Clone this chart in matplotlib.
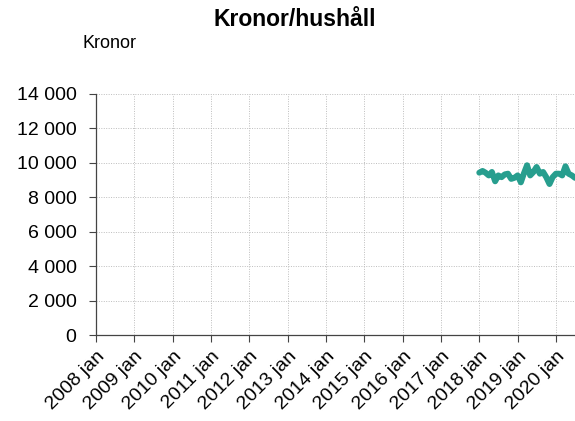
import matplotlib
matplotlib.use("Agg")
import matplotlib.pyplot as plt
import matplotlib.ticker as mticker
import pandas as pd

plt.rcParams['font.family'] = ['Liberation Sans', 'DejaVu Sans']

title = "Kronor/hushåll"
unit_label = "Kronor"
start_month = "2018-01-01"
values = [9430, 9530, 9430, 9270, 9470, 8930, 9270, 9170, 9330, 9370,
          9070, 9130, 9270, 8870, 9370, 9860, 9270, 9470, 9760, 9370,
          9470, 9170, 8770, 9170, 9370, 9370, 9270, 9800, 9370, 9270, 9130]
tick_years = list(range(2008, 2021))
tick_labels = [f"{y} jan" for y in tick_years]
y_ticks = [0, 2000, 4000, 6000, 8000, 10000, 12000, 14000]

dates = pd.date_range(start_month, periods=len(values), freq="MS")

fig = plt.figure(figsize=(5.75, 4.21), dpi=100)
ax = fig.add_axes([96/575, 86/421, 1 - 96/575, (335-94)/421])

ax.plot(dates, values, color="#279E8E", linewidth=4.3, solid_capstyle="round",
        solid_joinstyle="round", clip_on=False, zorder=3)

ax.set_xlim(pd.Timestamp("2008-01-01"), dates[-1])
ax.set_ylim(0, 14000)
ax.set_yticks(y_ticks)
ax.yaxis.set_major_formatter(mticker.FuncFormatter(lambda v, p: f"{int(v):,}".replace(",", " ")))
ax.set_xticks([pd.Timestamp(f"{y}-01-01") for y in tick_years])
ax.set_xticklabels(tick_labels, rotation=45, ha="right", rotation_mode="anchor")

ax.tick_params(axis="both", labelsize=14, length=5, width=0.8, direction="out",
               color="#444444", labelcolor="black")
ax.tick_params(axis="y", pad=9)
ax.tick_params(axis="x", pad=4)

ax.grid(True, which="major", linestyle=(0, (1, 1.5)), color="#bdbdbd", linewidth=0.7)
ax.set_axisbelow(True)
for s in ["top", "right"]:
    ax.spines[s].set_visible(False)
for s in ["left", "bottom"]:
    ax.spines[s].set_color("#444444")
    ax.spines[s].set_linewidth(0.9)

fig.text(295/575, 1 - 20/421, title, ha="center", va="center", fontsize=16.5, fontweight="bold")
fig.text(82/575, 1 - 44/421, unit_label, ha="left", va="center", fontsize=13)

fig.savefig("out.png", dpi=100)
